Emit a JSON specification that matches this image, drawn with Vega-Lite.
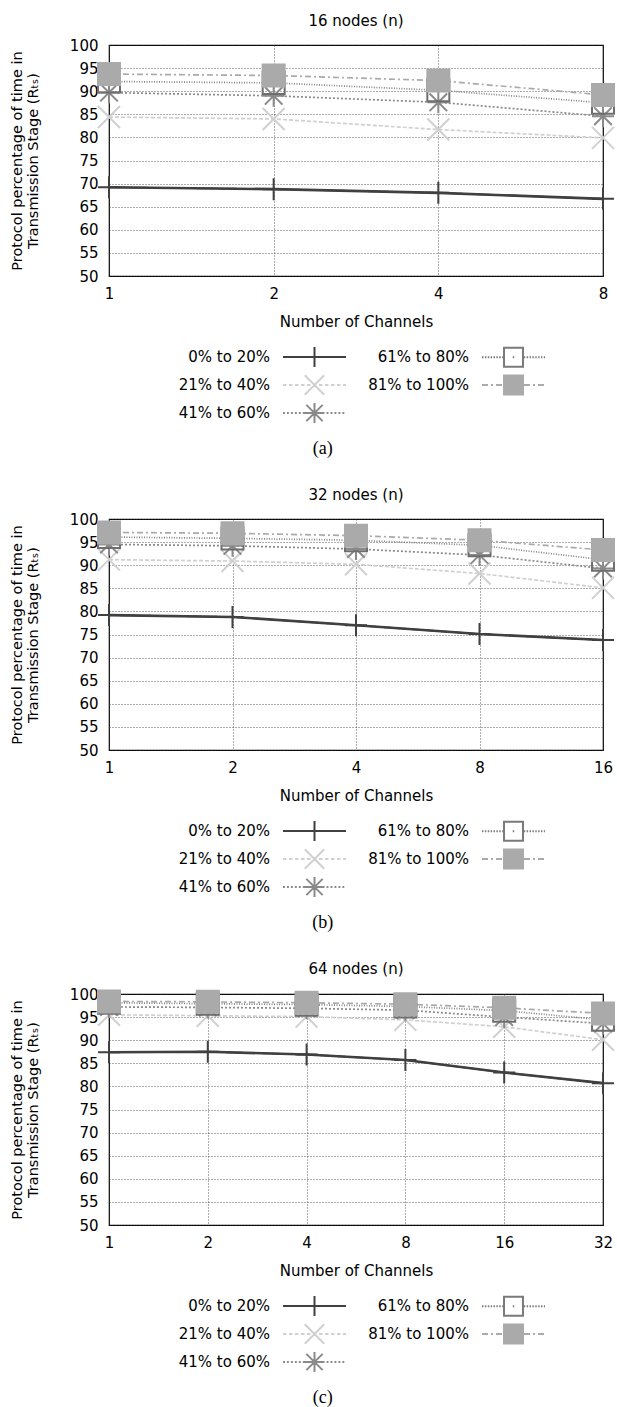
{
  "$schema": "https://vega.github.io/schema/vega-lite/v6.json",
  "padding": {"left": 8, "top": 13, "right": 2, "bottom": 0},
  "datasets": {
    "a": [
      {"ch": 1, "s": "0% to 20%", "v": 69.2}, {"ch": 2, "s": "0% to 20%", "v": 68.8}, {"ch": 4, "s": "0% to 20%", "v": 68.0}, {"ch": 8, "s": "0% to 20%", "v": 66.7},
      {"ch": 1, "s": "21% to 40%", "v": 84.4}, {"ch": 2, "s": "21% to 40%", "v": 84.0}, {"ch": 4, "s": "21% to 40%", "v": 81.7}, {"ch": 8, "s": "21% to 40%", "v": 79.9},
      {"ch": 1, "s": "41% to 60%", "v": 89.7}, {"ch": 2, "s": "41% to 60%", "v": 89.0}, {"ch": 4, "s": "41% to 60%", "v": 87.6}, {"ch": 8, "s": "41% to 60%", "v": 84.6},
      {"ch": 1, "s": "61% to 80%", "v": 92.1}, {"ch": 2, "s": "61% to 80%", "v": 91.8}, {"ch": 4, "s": "61% to 80%", "v": 90.2}, {"ch": 8, "s": "61% to 80%", "v": 87.5},
      {"ch": 1, "s": "81% to 100%", "v": 93.7}, {"ch": 2, "s": "81% to 100%", "v": 93.4}, {"ch": 4, "s": "81% to 100%", "v": 92.3}, {"ch": 8, "s": "81% to 100%", "v": 89.2}
    ],
    "b": [
      {"ch": 1, "s": "0% to 20%", "v": 79.2}, {"ch": 2, "s": "0% to 20%", "v": 78.8}, {"ch": 4, "s": "0% to 20%", "v": 77.0}, {"ch": 8, "s": "0% to 20%", "v": 75.1}, {"ch": 16, "s": "0% to 20%", "v": 73.8},
      {"ch": 1, "s": "21% to 40%", "v": 91.2}, {"ch": 2, "s": "21% to 40%", "v": 90.9}, {"ch": 4, "s": "21% to 40%", "v": 90.2}, {"ch": 8, "s": "21% to 40%", "v": 88.2}, {"ch": 16, "s": "21% to 40%", "v": 85.1},
      {"ch": 1, "s": "41% to 60%", "v": 94.5}, {"ch": 2, "s": "41% to 60%", "v": 94.2}, {"ch": 4, "s": "41% to 60%", "v": 93.5}, {"ch": 8, "s": "41% to 60%", "v": 92.2}, {"ch": 16, "s": "41% to 60%", "v": 89.3},
      {"ch": 1, "s": "61% to 80%", "v": 96.1}, {"ch": 2, "s": "61% to 80%", "v": 95.8}, {"ch": 4, "s": "61% to 80%", "v": 95.4}, {"ch": 8, "s": "61% to 80%", "v": 94.3}, {"ch": 16, "s": "61% to 80%", "v": 91.2},
      {"ch": 1, "s": "81% to 100%", "v": 97.1}, {"ch": 2, "s": "81% to 100%", "v": 96.9}, {"ch": 4, "s": "81% to 100%", "v": 96.4}, {"ch": 8, "s": "81% to 100%", "v": 95.4}, {"ch": 16, "s": "81% to 100%", "v": 93.3}
    ],
    "c": [
      {"ch": 1, "s": "0% to 20%", "v": 87.4}, {"ch": 2, "s": "0% to 20%", "v": 87.5}, {"ch": 4, "s": "0% to 20%", "v": 86.9}, {"ch": 8, "s": "0% to 20%", "v": 85.7}, {"ch": 16, "s": "0% to 20%", "v": 83.0}, {"ch": 32, "s": "0% to 20%", "v": 80.7},
      {"ch": 1, "s": "21% to 40%", "v": 95.5}, {"ch": 2, "s": "21% to 40%", "v": 95.3}, {"ch": 4, "s": "21% to 40%", "v": 95.1}, {"ch": 8, "s": "21% to 40%", "v": 94.4}, {"ch": 16, "s": "21% to 40%", "v": 92.9}, {"ch": 32, "s": "21% to 40%", "v": 90.1},
      {"ch": 1, "s": "41% to 60%", "v": 97.2}, {"ch": 2, "s": "41% to 60%", "v": 97.1}, {"ch": 4, "s": "41% to 60%", "v": 96.9}, {"ch": 8, "s": "41% to 60%", "v": 96.5}, {"ch": 16, "s": "41% to 60%", "v": 95.0}, {"ch": 32, "s": "41% to 60%", "v": 93.6},
      {"ch": 1, "s": "61% to 80%", "v": 98.1}, {"ch": 2, "s": "61% to 80%", "v": 97.9}, {"ch": 4, "s": "61% to 80%", "v": 97.7}, {"ch": 8, "s": "61% to 80%", "v": 97.3}, {"ch": 16, "s": "61% to 80%", "v": 96.4}, {"ch": 32, "s": "61% to 80%", "v": 94.4},
      {"ch": 1, "s": "81% to 100%", "v": 98.4}, {"ch": 2, "s": "81% to 100%", "v": 98.3}, {"ch": 4, "s": "81% to 100%", "v": 98.1}, {"ch": 8, "s": "81% to 100%", "v": 97.8}, {"ch": 16, "s": "81% to 100%", "v": 97.0}, {"ch": 32, "s": "81% to 100%", "v": 95.8}
    ]
  },
  "spacing": 29,
  "resolve": {"scale": {"x": "independent"}},
  "vconcat": [
    {
      "title": {"text": "(a)", "orient": "bottom", "anchor": "middle", "font": "Liberation Serif", "fontSize": 18, "frame": "bounds", "offset": 12, "dx": 9},
      "vconcat": [{
        "title": {"text": "16 nodes (n)", "frame": "group", "offset": 9},
        "width": 494, "height": 231,
        "data": {"name": "a"},
        "encoding": {
          "x": {"field": "ch", "type": "quantitative", "scale": {"type": "log", "base": 2, "domain": [1, 8]}, "axis": {"values": [1, 2, 4, 8], "format": "d", "title": "Number of Channels"}},
          "y": {"field": "v", "type": "quantitative", "scale": {"domain": [50, 100]}, "axis": {"values": [50, 55, 60, 65, 70, 75, 80, 85, 90, 95, 100], "title": ["Protocol percentage of time in", "Transmission Stage (Rₜₛ)"]}}
        },
        "layer": [
          {"mark": {"type": "line", "strokeWidth": 1.7},
           "encoding": {
             "stroke": {"field": "s", "type": "nominal", "legend": null, "scale": {"domain": ["0% to 20%", "21% to 40%", "41% to 60%", "61% to 80%", "81% to 100%"], "range": ["#404040", "#d0d0d0", "#8a8a8a", "#858585", "#aaaaaa"]}},
             "strokeDash": {"field": "s", "type": "nominal", "legend": null, "scale": {"domain": ["0% to 20%", "21% to 40%", "41% to 60%", "61% to 80%", "81% to 100%"], "range": [[1, 0], [4, 2], [2, 2], [1, 1.5], [6, 3, 2, 3]]}}
           }},
          {"transform": [{"filter": "datum.s === '0% to 20%'"}],
           "mark": {"type": "line", "strokeWidth": 2.6, "color": "#404040"},
           "encoding": {}},
          {"mark": {"type": "point", "opacity": 1, "strokeWidth": 2, "size": 484},
           "encoding": {
             "shape": {"field": "s", "type": "nominal", "legend": null, "scale": {"domain": ["0% to 20%", "21% to 40%", "41% to 60%", "61% to 80%", "81% to 100%"], "range": ["M-1,0H1M0,-1V1", "M-1,-1L1,1M-1,1L1,-1", "M-1,0H1M0,-1V1M-0.8,-0.8L0.8,0.8M-0.8,0.8L0.8,-0.8", "M-1,-1H1V1H-1Z", "M-1,-1H1V1H-1Z"]}},
             "stroke": {"field": "s", "type": "nominal", "legend": null, "scale": {"domain": ["0% to 20%", "21% to 40%", "41% to 60%", "61% to 80%", "81% to 100%"], "range": ["#404040", "#d0d0d0", "#8a8a8a", "#6e6e6e", "#aaaaaa"]}},
             "fill": {"field": "s", "type": "nominal", "legend": null, "scale": {"domain": ["0% to 20%", "21% to 40%", "41% to 60%", "61% to 80%", "81% to 100%"], "range": ["transparent", "transparent", "transparent", "transparent", "#aaaaaa"]}}
           }},
          {"transform": [{"filter": "false"}],
           "mark": {"type": "point", "opacity": 1, "strokeWidth": 2, "size": 576},
           "encoding": {
             "shape": {"field": "s", "type": "nominal", "scale": {"domain": ["0% to 20%", "21% to 40%", "41% to 60%", "61% to 80%", "81% to 100%"], "range": [
               "M-1,0H4.25M1.625,-0.83V0.83",
               "M-1,0h0.29M-0.5,0h0.29M0,0h0.29M0.5,0h0.29M1,0h0.29M1.5,0h0.29M2,0h0.29M2.5,0h0.29M3,0h0.29M3.5,0h0.29M4,0h0.25M0.815,-0.81L2.435,0.81M0.815,0.81L2.435,-0.81",
               "M-1,0h0.16M-0.67,0h0.16M-0.34,0h0.16M-0.01,0h0.16M0.32,0h0.16M0.65,0h0.16M0.98,0h0.16M1.31,0h0.16M1.64,0h0.16M1.97,0h0.16M2.3,0h0.16M2.63,0h0.16M2.96,0h0.16M3.29,0h0.16M3.62,0h0.16M3.95,0h0.16M0.795,0H2.455M1.625,-0.83V0.83M0.945,-0.68L2.305,0.68M0.945,0.68L2.305,-0.68",
               "M-1,0h0.12M-0.76,0h0.12M-0.52,0h0.12M-0.28,0h0.12M-0.04,0h0.12M0.2,0h0.12M0.44,0h0.12M0.68,0h0.12M1.565,0h0.12M2.48,0h0.12M2.72,0h0.12M2.96,0h0.12M3.2,0h0.12M3.44,0h0.12M3.68,0h0.12M3.92,0h0.12M4.16,0h0.09M0.835,-0.79H2.415V0.79H0.835Z",
               "M-1,0H-0.5M-0.25,0H-0.083M0.167,0H0.667M0.917,0H1.083M1.333,0H1.833M2.083,0H2.25M2.5,0H3M3.25,0H3.417M3.667,0H4.167M0.835,-0.79H2.415V0.79H0.835Z"
             ]}, "legend": {"title": null, "orient": "none", "legendX": 173, "legendY": 299, "columns": 2, "columnPadding": 18, "rowPadding": 0, "labelOffset": -38, "labelAlign": "right", "symbolSize": 576, "symbolStrokeWidth": 2, "labelFontSize": 15, "labelColor": "#000", "padding": 0}},
             "stroke": {"field": "s", "type": "nominal", "scale": {"domain": ["0% to 20%", "21% to 40%", "41% to 60%", "61% to 80%", "81% to 100%"], "range": ["#404040", "#d0d0d0", "#8a8a8a", "#7a7a7a", "#aaaaaa"]}, "legend": {"title": null, "orient": "none", "legendX": 173, "legendY": 299, "columns": 2, "columnPadding": 18, "rowPadding": 0, "labelOffset": -38, "labelAlign": "right", "symbolSize": 576, "symbolStrokeWidth": 2, "labelFontSize": 15, "labelColor": "#000", "padding": 0}},
             "fill": {"field": "s", "type": "nominal", "scale": {"domain": ["0% to 20%", "21% to 40%", "41% to 60%", "61% to 80%", "81% to 100%"], "range": ["transparent", "transparent", "transparent", "transparent", "#aaaaaa"]}, "legend": {"title": null, "orient": "none", "legendX": 173, "legendY": 299, "columns": 2, "columnPadding": 18, "rowPadding": 0, "labelOffset": -38, "labelAlign": "right", "symbolSize": 576, "symbolStrokeWidth": 2, "labelFontSize": 15, "labelColor": "#000", "padding": 0}}
           }}
        ],
        "resolve": {"scale": {"stroke": "independent", "strokeDash": "independent", "shape": "independent", "fill": "independent"}}
      }]
    },
    {
      "title": {"text": "(b)", "orient": "bottom", "anchor": "middle", "font": "Liberation Serif", "fontSize": 18, "frame": "bounds", "offset": 12, "dx": 9},
      "vconcat": [{
        "title": {"text": "32 nodes (n)", "frame": "group", "offset": 9},
        "width": 494, "height": 231,
        "data": {"name": "b"},
        "encoding": {
          "x": {"field": "ch", "type": "quantitative", "scale": {"type": "log", "base": 2, "domain": [1, 16]}, "axis": {"values": [1, 2, 4, 8, 16], "format": "d", "title": "Number of Channels"}},
          "y": {"field": "v", "type": "quantitative", "scale": {"domain": [50, 100]}, "axis": {"values": [50, 55, 60, 65, 70, 75, 80, 85, 90, 95, 100], "title": ["Protocol percentage of time in", "Transmission Stage (Rₜₛ)"]}}
        },
        "layer": [
          {"mark": {"type": "line", "strokeWidth": 1.7},
           "encoding": {
             "stroke": {"field": "s", "type": "nominal", "legend": null, "scale": {"domain": ["0% to 20%", "21% to 40%", "41% to 60%", "61% to 80%", "81% to 100%"], "range": ["#404040", "#d0d0d0", "#8a8a8a", "#858585", "#aaaaaa"]}},
             "strokeDash": {"field": "s", "type": "nominal", "legend": null, "scale": {"domain": ["0% to 20%", "21% to 40%", "41% to 60%", "61% to 80%", "81% to 100%"], "range": [[1, 0], [4, 2], [2, 2], [1, 1.5], [6, 3, 2, 3]]}}
           }},
          {"transform": [{"filter": "datum.s === '0% to 20%'"}],
           "mark": {"type": "line", "strokeWidth": 2.6, "color": "#404040"},
           "encoding": {}},
          {"mark": {"type": "point", "opacity": 1, "strokeWidth": 2, "size": 484},
           "encoding": {
             "shape": {"field": "s", "type": "nominal", "legend": null, "scale": {"domain": ["0% to 20%", "21% to 40%", "41% to 60%", "61% to 80%", "81% to 100%"], "range": ["M-1,0H1M0,-1V1", "M-1,-1L1,1M-1,1L1,-1", "M-1,0H1M0,-1V1M-0.8,-0.8L0.8,0.8M-0.8,0.8L0.8,-0.8", "M-1,-1H1V1H-1Z", "M-1,-1H1V1H-1Z"]}},
             "stroke": {"field": "s", "type": "nominal", "legend": null, "scale": {"domain": ["0% to 20%", "21% to 40%", "41% to 60%", "61% to 80%", "81% to 100%"], "range": ["#404040", "#d0d0d0", "#8a8a8a", "#6e6e6e", "#aaaaaa"]}},
             "fill": {"field": "s", "type": "nominal", "legend": null, "scale": {"domain": ["0% to 20%", "21% to 40%", "41% to 60%", "61% to 80%", "81% to 100%"], "range": ["transparent", "transparent", "transparent", "transparent", "#aaaaaa"]}}
           }},
          {"transform": [{"filter": "false"}],
           "mark": {"type": "point", "opacity": 1, "strokeWidth": 2, "size": 576},
           "encoding": {
             "shape": {"field": "s", "type": "nominal", "scale": {"domain": ["0% to 20%", "21% to 40%", "41% to 60%", "61% to 80%", "81% to 100%"], "range": [
               "M-1,0H4.25M1.625,-0.83V0.83",
               "M-1,0h0.29M-0.5,0h0.29M0,0h0.29M0.5,0h0.29M1,0h0.29M1.5,0h0.29M2,0h0.29M2.5,0h0.29M3,0h0.29M3.5,0h0.29M4,0h0.25M0.815,-0.81L2.435,0.81M0.815,0.81L2.435,-0.81",
               "M-1,0h0.16M-0.67,0h0.16M-0.34,0h0.16M-0.01,0h0.16M0.32,0h0.16M0.65,0h0.16M0.98,0h0.16M1.31,0h0.16M1.64,0h0.16M1.97,0h0.16M2.3,0h0.16M2.63,0h0.16M2.96,0h0.16M3.29,0h0.16M3.62,0h0.16M3.95,0h0.16M0.795,0H2.455M1.625,-0.83V0.83M0.945,-0.68L2.305,0.68M0.945,0.68L2.305,-0.68",
               "M-1,0h0.12M-0.76,0h0.12M-0.52,0h0.12M-0.28,0h0.12M-0.04,0h0.12M0.2,0h0.12M0.44,0h0.12M0.68,0h0.12M1.565,0h0.12M2.48,0h0.12M2.72,0h0.12M2.96,0h0.12M3.2,0h0.12M3.44,0h0.12M3.68,0h0.12M3.92,0h0.12M4.16,0h0.09M0.835,-0.79H2.415V0.79H0.835Z",
               "M-1,0H-0.5M-0.25,0H-0.083M0.167,0H0.667M0.917,0H1.083M1.333,0H1.833M2.083,0H2.25M2.5,0H3M3.25,0H3.417M3.667,0H4.167M0.835,-0.79H2.415V0.79H0.835Z"
             ]}, "legend": {"title": null, "orient": "none", "legendX": 173, "legendY": 299, "columns": 2, "columnPadding": 18, "rowPadding": 0, "labelOffset": -38, "labelAlign": "right", "symbolSize": 576, "symbolStrokeWidth": 2, "labelFontSize": 15, "labelColor": "#000", "padding": 0}},
             "stroke": {"field": "s", "type": "nominal", "scale": {"domain": ["0% to 20%", "21% to 40%", "41% to 60%", "61% to 80%", "81% to 100%"], "range": ["#404040", "#d0d0d0", "#8a8a8a", "#7a7a7a", "#aaaaaa"]}, "legend": {"title": null, "orient": "none", "legendX": 173, "legendY": 299, "columns": 2, "columnPadding": 18, "rowPadding": 0, "labelOffset": -38, "labelAlign": "right", "symbolSize": 576, "symbolStrokeWidth": 2, "labelFontSize": 15, "labelColor": "#000", "padding": 0}},
             "fill": {"field": "s", "type": "nominal", "scale": {"domain": ["0% to 20%", "21% to 40%", "41% to 60%", "61% to 80%", "81% to 100%"], "range": ["transparent", "transparent", "transparent", "transparent", "#aaaaaa"]}, "legend": {"title": null, "orient": "none", "legendX": 173, "legendY": 299, "columns": 2, "columnPadding": 18, "rowPadding": 0, "labelOffset": -38, "labelAlign": "right", "symbolSize": 576, "symbolStrokeWidth": 2, "labelFontSize": 15, "labelColor": "#000", "padding": 0}}
           }}
        ],
        "resolve": {"scale": {"stroke": "independent", "strokeDash": "independent", "shape": "independent", "fill": "independent"}}
      }]
    },
    {
      "title": {"text": "(c)", "orient": "bottom", "anchor": "middle", "font": "Liberation Serif", "fontSize": 18, "frame": "bounds", "offset": 12, "dx": 9},
      "vconcat": [{
        "title": {"text": "64 nodes (n)", "frame": "group", "offset": 9},
        "width": 494, "height": 231,
        "data": {"name": "c"},
        "encoding": {
          "x": {"field": "ch", "type": "quantitative", "scale": {"type": "log", "base": 2, "domain": [1, 32]}, "axis": {"values": [1, 2, 4, 8, 16, 32], "format": "d", "title": "Number of Channels"}},
          "y": {"field": "v", "type": "quantitative", "scale": {"domain": [50, 100]}, "axis": {"values": [50, 55, 60, 65, 70, 75, 80, 85, 90, 95, 100], "title": ["Protocol percentage of time in", "Transmission Stage (Rₜₛ)"]}}
        },
        "layer": [
          {"mark": {"type": "line", "strokeWidth": 1.7},
           "encoding": {
             "stroke": {"field": "s", "type": "nominal", "legend": null, "scale": {"domain": ["0% to 20%", "21% to 40%", "41% to 60%", "61% to 80%", "81% to 100%"], "range": ["#404040", "#d0d0d0", "#8a8a8a", "#858585", "#aaaaaa"]}},
             "strokeDash": {"field": "s", "type": "nominal", "legend": null, "scale": {"domain": ["0% to 20%", "21% to 40%", "41% to 60%", "61% to 80%", "81% to 100%"], "range": [[1, 0], [4, 2], [2, 2], [1, 1.5], [6, 3, 2, 3]]}}
           }},
          {"transform": [{"filter": "datum.s === '0% to 20%'"}],
           "mark": {"type": "line", "strokeWidth": 2.6, "color": "#404040"},
           "encoding": {}},
          {"mark": {"type": "point", "opacity": 1, "strokeWidth": 2, "size": 484},
           "encoding": {
             "shape": {"field": "s", "type": "nominal", "legend": null, "scale": {"domain": ["0% to 20%", "21% to 40%", "41% to 60%", "61% to 80%", "81% to 100%"], "range": ["M-1,0H1M0,-1V1", "M-1,-1L1,1M-1,1L1,-1", "M-1,0H1M0,-1V1M-0.8,-0.8L0.8,0.8M-0.8,0.8L0.8,-0.8", "M-1,-1H1V1H-1Z", "M-1,-1H1V1H-1Z"]}},
             "stroke": {"field": "s", "type": "nominal", "legend": null, "scale": {"domain": ["0% to 20%", "21% to 40%", "41% to 60%", "61% to 80%", "81% to 100%"], "range": ["#404040", "#d0d0d0", "#8a8a8a", "#6e6e6e", "#aaaaaa"]}},
             "fill": {"field": "s", "type": "nominal", "legend": null, "scale": {"domain": ["0% to 20%", "21% to 40%", "41% to 60%", "61% to 80%", "81% to 100%"], "range": ["transparent", "transparent", "transparent", "transparent", "#aaaaaa"]}}
           }},
          {"transform": [{"filter": "false"}],
           "mark": {"type": "point", "opacity": 1, "strokeWidth": 2, "size": 576},
           "encoding": {
             "shape": {"field": "s", "type": "nominal", "scale": {"domain": ["0% to 20%", "21% to 40%", "41% to 60%", "61% to 80%", "81% to 100%"], "range": [
               "M-1,0H4.25M1.625,-0.83V0.83",
               "M-1,0h0.29M-0.5,0h0.29M0,0h0.29M0.5,0h0.29M1,0h0.29M1.5,0h0.29M2,0h0.29M2.5,0h0.29M3,0h0.29M3.5,0h0.29M4,0h0.25M0.815,-0.81L2.435,0.81M0.815,0.81L2.435,-0.81",
               "M-1,0h0.16M-0.67,0h0.16M-0.34,0h0.16M-0.01,0h0.16M0.32,0h0.16M0.65,0h0.16M0.98,0h0.16M1.31,0h0.16M1.64,0h0.16M1.97,0h0.16M2.3,0h0.16M2.63,0h0.16M2.96,0h0.16M3.29,0h0.16M3.62,0h0.16M3.95,0h0.16M0.795,0H2.455M1.625,-0.83V0.83M0.945,-0.68L2.305,0.68M0.945,0.68L2.305,-0.68",
               "M-1,0h0.12M-0.76,0h0.12M-0.52,0h0.12M-0.28,0h0.12M-0.04,0h0.12M0.2,0h0.12M0.44,0h0.12M0.68,0h0.12M1.565,0h0.12M2.48,0h0.12M2.72,0h0.12M2.96,0h0.12M3.2,0h0.12M3.44,0h0.12M3.68,0h0.12M3.92,0h0.12M4.16,0h0.09M0.835,-0.79H2.415V0.79H0.835Z",
               "M-1,0H-0.5M-0.25,0H-0.083M0.167,0H0.667M0.917,0H1.083M1.333,0H1.833M2.083,0H2.25M2.5,0H3M3.25,0H3.417M3.667,0H4.167M0.835,-0.79H2.415V0.79H0.835Z"
             ]}, "legend": {"title": null, "orient": "none", "legendX": 173, "legendY": 299, "columns": 2, "columnPadding": 18, "rowPadding": 0, "labelOffset": -38, "labelAlign": "right", "symbolSize": 576, "symbolStrokeWidth": 2, "labelFontSize": 15, "labelColor": "#000", "padding": 0}},
             "stroke": {"field": "s", "type": "nominal", "scale": {"domain": ["0% to 20%", "21% to 40%", "41% to 60%", "61% to 80%", "81% to 100%"], "range": ["#404040", "#d0d0d0", "#8a8a8a", "#7a7a7a", "#aaaaaa"]}, "legend": {"title": null, "orient": "none", "legendX": 173, "legendY": 299, "columns": 2, "columnPadding": 18, "rowPadding": 0, "labelOffset": -38, "labelAlign": "right", "symbolSize": 576, "symbolStrokeWidth": 2, "labelFontSize": 15, "labelColor": "#000", "padding": 0}},
             "fill": {"field": "s", "type": "nominal", "scale": {"domain": ["0% to 20%", "21% to 40%", "41% to 60%", "61% to 80%", "81% to 100%"], "range": ["transparent", "transparent", "transparent", "transparent", "#aaaaaa"]}, "legend": {"title": null, "orient": "none", "legendX": 173, "legendY": 299, "columns": 2, "columnPadding": 18, "rowPadding": 0, "labelOffset": -38, "labelAlign": "right", "symbolSize": 576, "symbolStrokeWidth": 2, "labelFontSize": 15, "labelColor": "#000", "padding": 0}}
           }}
        ],
        "resolve": {"scale": {"stroke": "independent", "strokeDash": "independent", "shape": "independent", "fill": "independent"}}
      }]
    }
  ],
  "config": {
    "font": "DejaVu Sans",
    "view": {"stroke": "#000", "strokeWidth": 1.2},
    "axis": {"labelFont": "DejaVu Sans", "labelFontSize": 15, "labelColor": "#000", "titleFont": "DejaVu Sans", "titleFontSize": 15, "titleFontWeight": "normal", "titleColor": "#000", "domain": false, "ticks": false, "grid": true, "gridColor": "#333", "gridDash": [1, 2], "gridWidth": 0.8, "labelPadding": 10},
    "axisX": {"titlePadding": 13, "labelFlush": false},
    "axisY": {"titlePadding": 29, "labelPadding": 11, "titleFontSize": 14.5, "titleLineHeight": 16},
    "legend": {"labelFont": "DejaVu Sans"},
    "title": {"font": "DejaVu Sans", "fontSize": 15, "fontWeight": "normal", "color": "#000"}
  }
}
